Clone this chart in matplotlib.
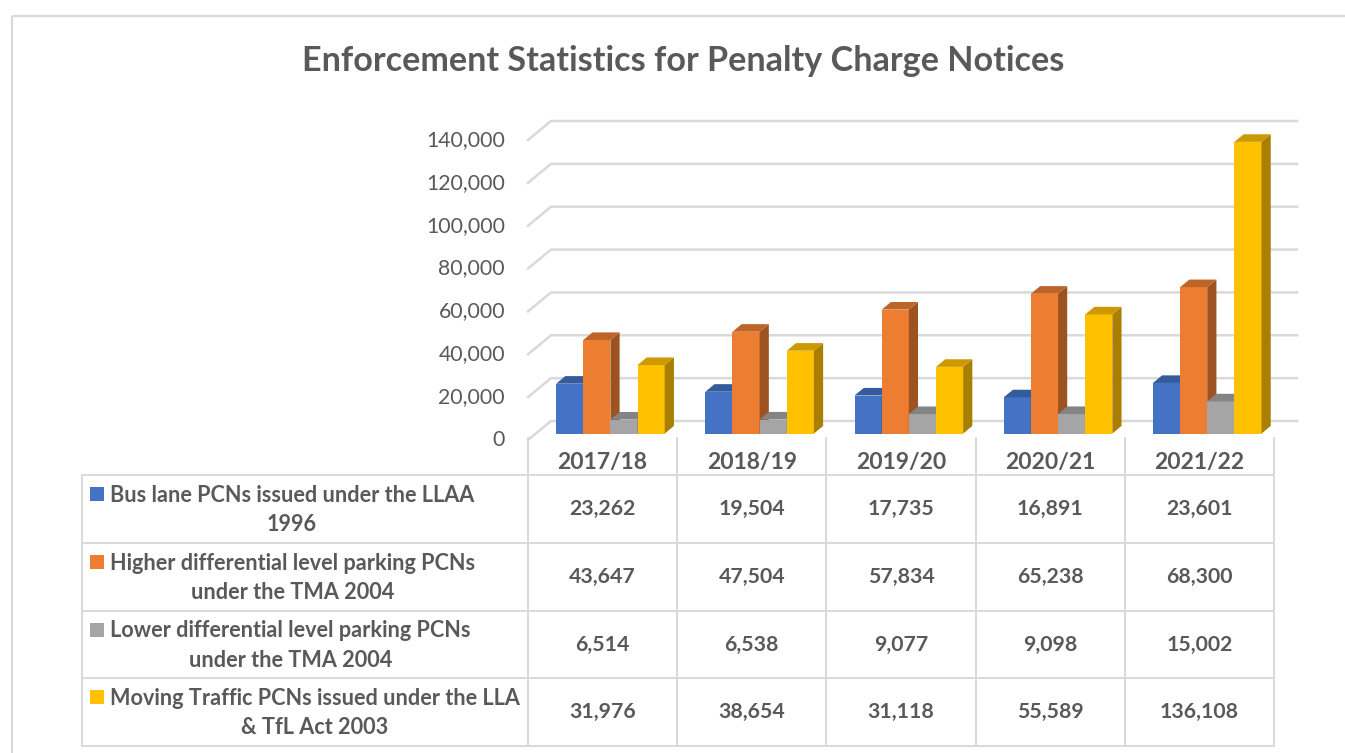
import numpy as np
import matplotlib.pyplot as plt
from matplotlib.patches import Polygon, Rectangle
from matplotlib.colors import to_rgb
from matplotlib.transforms import blended_transform_factory

plt.rcParams["font.family"] = ["Lato", "DejaVu Sans"]

# Data
years = ["2017/18", "2018/19", "2019/20", "2020/21", "2021/22"]
series_labels = [
    "Bus lane PCNs issued under the LLAA\n1996",
    "Higher differential level parking PCNs\nunder the TMA 2004",
    "Lower differential level parking PCNs\nunder the TMA 2004",
    "Moving Traffic PCNs issued under the LLA\n& TfL Act 2003",
]
bus_lane = [23262, 19504, 17735, 16891, 23601]
higher_parking = [43647, 47504, 57834, 65238, 68300]
lower_parking = [6514, 6538, 9077, 9098, 15002]
moving_traffic = [31976, 38654, 31118, 55589, 136108]
series_values = [bus_lane, higher_parking, lower_parking, moving_traffic]
colors = ["#4472C4", "#ED7D31", "#A5A5A5", "#FFC000"]
y_ticks = [0, 20000, 40000, 60000, 80000, 100000, 120000, 140000]

text_c = "#595959"
grid_c = "#D9D9D9"

W, H = 1345, 753
fig = plt.figure(figsize=(W / 100, H / 100), dpi=100)

# pixel canvas for frame, title and data table
canvas = fig.add_axes([0, 0, 1, 1])
canvas.set_xlim(0, W)
canvas.set_ylim(H, 0)
canvas.axis("off")

# front plane of the pseudo 3-D plot area
left, right, y0_px, ytop_px = 528, 1274, 440, 140
ax = fig.add_axes([left / W, 1 - y0_px / H, (right - left) / W, (y0_px - ytop_px) / H])
ax.set_xlim(-0.5, len(years) - 0.5)
ax.set_ylim(0, y_ticks[-1])
ax.axis("off")
ax.patch.set_alpha(0)

# floor depth (in data units): back wall sits 23 px right, 19 px up
depth_x = 23 / (right - left) * len(years)
depth_y = 19 / (y0_px - ytop_px) * y_ticks[-1]

xmix = blended_transform_factory(canvas.transData, ax.transData)
for t in y_ticks:
    ax.plot([-0.5, -0.5 + depth_x, len(years) - 0.5 + depth_x],
            [t, t + depth_y, t + depth_y],
            color=grid_c, lw=1.8, clip_on=False, zorder=1)
    ax.text(505, t, f"{t:,}", transform=xmix, ha="right", va="center",
            fontsize=15.3, color=text_c)

# bars: front face + darker side and top faces
bar_w = 0.182
f0, f1 = 0.34, 0.74
ddx = (f1 - f0) * depth_x
ddy = (f1 - f0) * depth_y
base = f0 * depth_y
n = len(series_values)
for j in range(len(years)):
    for i in range(n):
        v = series_values[i][j]
        c = np.array(to_rgb(colors[i]))
        xc = j + (i - (n - 1) / 2) * bar_w + f0 * depth_x
        xl, xr = xc - bar_w / 2, xc + bar_w / 2
        top = base + v
        ax.bar(xc, v, width=bar_w, bottom=base, color=colors[i],
               linewidth=0, zorder=2, clip_on=False)
        ax.add_patch(Polygon([(xr, base), (xr + ddx, base + ddy),
                              (xr + ddx, top + ddy), (xr, top)],
                             closed=True, fc=c * 0.66, lw=0, zorder=2, clip_on=False))
        ax.add_patch(Polygon([(xl, top), (xr, top), (xr + ddx, top + ddy),
                              (xl + ddx, top + ddy)],
                             closed=True, fc=c * 0.8, lw=0, zorder=2, clip_on=False))

# outer chart frame
canvas.add_patch(Rectangle((12, 16), W, H, fill=False, ec=grid_c, lw=1.5))

# title
canvas.text(683, 61, "Enforcement Statistics for Penalty Charge Notices",
            ha="center", va="center", fontsize=24.6, fontweight="bold", color=text_c)

# data table
colx = blended_transform_factory(ax.transData, canvas.transData)
row_edges = [475, 543, 611, 678, 746]
tleft = 82
lw_t = 1.4
for y in row_edges:
    canvas.plot([tleft, right], [y, y], color=grid_c, lw=lw_t)
canvas.plot([tleft, tleft], [row_edges[0], row_edges[-1]], color=grid_c, lw=lw_t)
for k in range(len(years) + 1):
    ax_x = k - 0.5
    canvas.plot([ax_x, ax_x], [438, row_edges[-1]], color=grid_c, lw=lw_t,
                transform=colx)

for j, yr in enumerate(years):
    canvas.text(j, 462, yr, transform=colx, ha="center", va="center",
                fontsize=16.5, fontweight="bold", color=text_c)

for i in range(n):
    yc = (row_edges[i] + row_edges[i + 1]) / 2
    canvas.add_patch(Rectangle((90, yc - 22), 14, 14, color=colors[i], lw=0))
    canvas.text(110, yc + 1, series_labels[i], ha="left", va="center",
                multialignment="center", fontsize=15.6, fontweight="bold",
                color=text_c, linespacing=1.5)
    for j in range(len(years)):
        canvas.text(j, yc, f"{series_values[i][j]:,}", transform=colx,
                    ha="center", va="center", fontsize=15.3, fontweight="bold",
                    color=text_c)

fig.savefig("out.png", dpi=100)
plt.close(fig)
